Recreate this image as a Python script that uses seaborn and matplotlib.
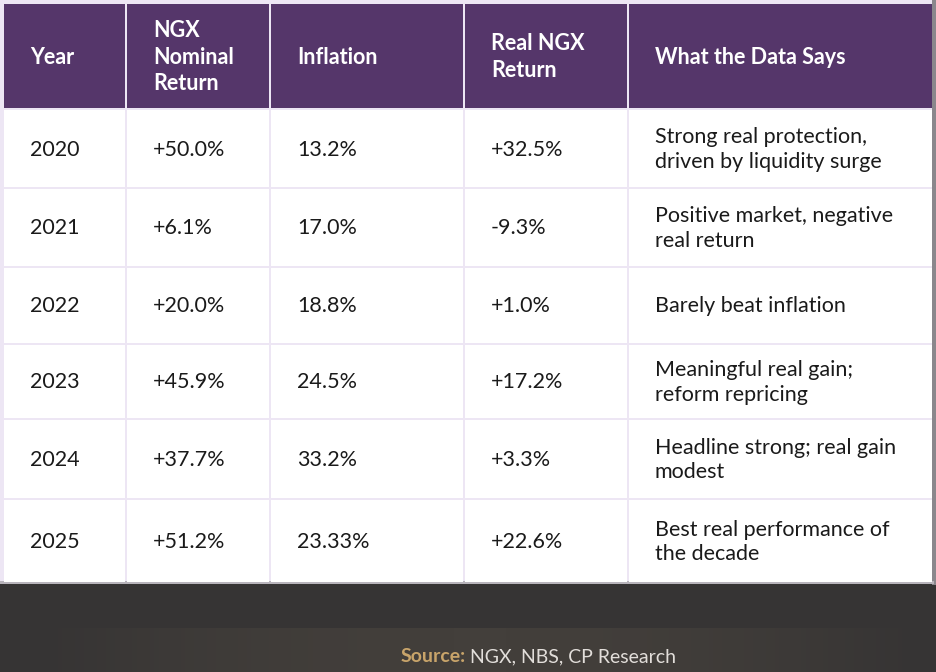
import numpy as np
import matplotlib
matplotlib.use("Agg")
import matplotlib.pyplot as plt
from matplotlib.patches import Rectangle
import seaborn as sns

# table content
headers = ["Year", "NGX\nNominal\nReturn", "Inflation", "Real NGX\nReturn", "What the Data Says"]
years = ["2020", "2021", "2022", "2023", "2024", "2025"]
nominal = ["+50.0%", "+6.1%", "+20.0%", "+45.9%", "+37.7%", "+51.2%"]
inflation = ["13.2%", "17.0%", "18.8%", "24.5%", "33.2%", "23.33%"]
real = ["+32.5%", "-9.3%", "+1.0%", "+17.2%", "+3.3%", "+22.6%"]
comments = [
    "Strong real protection,\ndriven by liquidity surge",
    "Positive market, negative\nreal return",
    "Barely beat inflation",
    "Meaningful real gain;\nreform repricing",
    "Headline strong; real gain\nmodest",
    "Best real performance of\nthe decade",
]

sns.set_theme(style="white")
plt.rcParams['font.family'] = ['Lato', 'DejaVu Sans']

PURPLE = "#55366a"
GRID = "#ede6f4"
DARK = "#363434"

W, H = 936, 672
fig = plt.figure(figsize=(W / 100, H / 100), dpi=100)
ax = fig.add_axes([0, 0, 1, 1])
ax.set_xlim(0, W)
ax.set_ylim(H, 0)
ax.axis("off")
fig.patch.set_facecolor("white")

# layout
col_x = [4, 127, 271, 465, 629]
col_r = [125, 269, 463, 627, 932]
row_top = [4, 110, 189, 268, 345, 420, 500]
row_bot = [108, 187, 266, 343, 418, 498, 582]
pad = 26

# dark footer + grid background
ax.add_patch(Rectangle((0, 583), W, H - 583, facecolor=DARK, linewidth=0, zorder=0))
grad = np.abs(np.linspace(-1, 1, 200))
grad = np.tile(1 - grad ** 2, (10, 1))
ax.imshow(grad, extent=(40, 920, 672, 628), cmap=sns.blend_palette([DARK, "#433f3b"], as_cmap=True),
          vmin=0, vmax=1, aspect="auto", zorder=1)
ax.add_patch(Rectangle((0, 0), 932, 583, facecolor=GRID, linewidth=0, zorder=1))
ax.add_patch(Rectangle((932, 0), 4, 585, facecolor="#8a878c", linewidth=0, zorder=1))
ax.add_patch(Rectangle((0, 581), 934, 3, facecolor="#b8b4bb", linewidth=0, zorder=1))

columns = [years, nominal, inflation, real, comments]
for r in range(len(row_top)):
    for c in range(len(col_x)):
        face = PURPLE if r == 0 else "white"
        ax.add_patch(Rectangle((col_x[c], row_top[r]), col_r[c] - col_x[c], row_bot[r] - row_top[r],
                               facecolor=face, linewidth=0, zorder=2))
        yc = (row_top[r] + row_bot[r]) / 2
        if r == 0:
            ax.text(col_x[c] + pad, yc + 1, headers[c], color="white", fontsize=15.5, fontweight="bold",
                    va="center", ha="left", linespacing=1.3, zorder=3)
        else:
            ax.text(col_x[c] + pad, yc + 1, columns[c][r - 1], color="#1a1a1a", fontsize=15.5,
                    va="center", ha="left", linespacing=1.3, zorder=3)

# source line
ax.text(466, 657, "Source:", color="#c8a46a", fontsize=14, fontweight="bold", ha="right", va="center", zorder=3)
ax.text(470, 657, "NGX, NBS, CP Research", color="#e2deda", fontsize=14, ha="left", va="center", zorder=3)

fig.savefig("out.png", dpi=100)
